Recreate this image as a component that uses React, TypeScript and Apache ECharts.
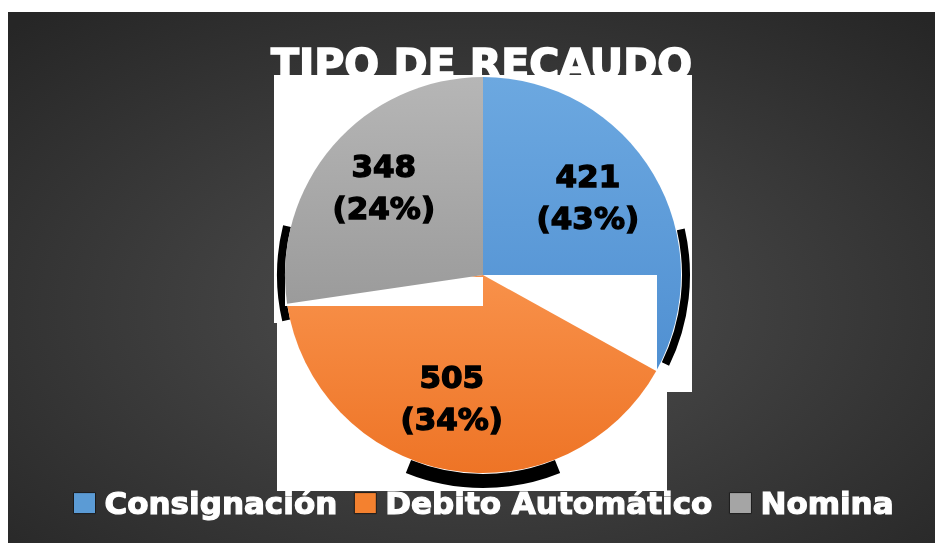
import React, { useEffect, useRef } from "react";
import * as echarts from "echarts";

const titleText = "TIPO DE RECAUDO";
const categories = ["Consignación", "Debito Automático", "Nomina"];
const values = [421, 505, 348];
const percentLabels = ["43%", "34%", "24%"];
const topColors = ["#6CA8E0", "#F8914A", "#B6B6B6"];
const bottomColors = ["#5090D2", "#EE7426", "#9B9B9B"];
const legendColors = ["#5B9BD5", "#F4812F", "#A5A5A5"];

const FONT = "DejaVu Sans";
const CX = 483;
const CY = 275;
const R = 198;

const deg = (d: number) => (d * Math.PI) / 180;

export default function App() {
  const ref = useRef<HTMLDivElement>(null);

  useEffect(() => {
    if (!ref.current) return;
    const chart = echarts.init(ref.current, undefined, { renderer: "svg" });

    const zs = [5, 7, 9];
    const offsets = [
      { dx: 17, dy: -26 },
      { dx: -13, dy: 23 },
      { dx: -22, dy: -21 },
    ];

    const series = categories.map((_, i) => ({
      type: "pie",
      z: zs[i],
      center: [CX, CY],
      radius: R,
      startAngle: 90,
      clockwise: true,
      silent: true,
      animation: false,
      avoidLabelOverlap: false,
      itemStyle: { borderWidth: 0 },
      emphasis: { disabled: true },
      labelLine: { show: false },
      labelLayout: offsets[i],
      label: {
        show: true,
        position: "inside",
        color: "#000",
        fontFamily: FONT,
        fontWeight: "bold",
        fontSize: 31,
        lineHeight: 42,
        textBorderColor: "#000",
        textBorderWidth: 1.4,
        formatter: (p: any) => `${p.value}\n(${percentLabels[p.dataIndex]})`,
      },
      data: categories.map((name, j) => ({
        name,
        value: values[j],
        itemStyle:
          j === i
            ? {
                color: new echarts.graphic.LinearGradient(0, 0, 0, 1, [
                  { offset: 0, color: topColors[j] },
                  { offset: 1, color: bottomColors[j] },
                ]),
                opacity: 1,
              }
            : { opacity: 0 },
        label: { show: j === i },
      })),
    }));

    const option: any = {
      animation: false,
      title: {
        text: titleText,
        left: 266,
        top: 38,
        z: 1,
        textStyle: {
          color: "#fff",
          fontFamily: FONT,
          fontWeight: "bold",
          fontSize: 41,
          textBorderColor: "#fff",
          textBorderWidth: 1.6,
        },
      },
      legend: {
        z: 1,
        left: 73,
        top: 487,
        padding: 0,
        icon: "rect",
        itemWidth: 22,
        itemHeight: 21,
        itemGap: 16,
        selectedMode: false,
        textStyle: {
          color: "#fff",
          fontFamily: FONT,
          fontWeight: "bold",
          fontSize: 31,
          lineHeight: 32,
          padding: [0, 0, 0, 4],
          textBorderColor: "#fff",
          textBorderWidth: 1.2,
        },
        data: categories.map((name, i) => ({
          name,
          itemStyle: {
            color: legendColors[i],
            opacity: 1,
            borderColor: "#1a1a1a",
            borderWidth: 1,
          },
        })),
      },
      graphic: [
        {
          type: "rect",
          z: 0,
          silent: true,
          shape: { x: 8, y: 12, width: 935, height: 540 },
          style: {
            fill: new echarts.graphic.RadialGradient(0.5, 0.55, 0.72, [
              { offset: 0, color: "#505050" },
              { offset: 1, color: "#262626" },
            ]),
          },
        },
        { type: "rect", z: 3, silent: true, shape: { x: 274, y: 75, width: 418, height: 248 }, style: { fill: "#fff" } },
        { type: "rect", z: 3, silent: true, shape: { x: 277, y: 322, width: 415, height: 70 }, style: { fill: "#fff" } },
        { type: "rect", z: 3, silent: true, shape: { x: 277, y: 391, width: 390, height: 100 }, style: { fill: "#fff" } },
        {
          type: "arc",
          z: 4,
          silent: true,
          shape: { cx: CX, cy: CY, r: 202, startAngle: deg(167), endAngle: deg(194), clockwise: true },
          style: { stroke: "#000", lineWidth: 8, fill: "none" },
        },
        {
          type: "arc",
          z: 4,
          silent: true,
          shape: { cx: CX, cy: CY, r: 203, startAngle: deg(-13), endAngle: deg(26), clockwise: true },
          style: { stroke: "#000", lineWidth: 8, fill: "none" },
        },
        {
          type: "arc",
          z: 4,
          silent: true,
          shape: { cx: CX, cy: 282, r: 199, startAngle: deg(68), endAngle: deg(112), clockwise: true },
          style: { stroke: "#000", lineWidth: 14, fill: "none" },
        },
        { type: "rect", z: 6, silent: true, shape: { x: 483, y: 275, width: 174, height: 97 }, style: { fill: "#fff" } },
        { type: "rect", z: 8, silent: true, shape: { x: 285, y: 277, width: 198, height: 29 }, style: { fill: "#fff" } },
      ],
      series,
    };

    chart.setOption(option);
    return () => chart.dispose();
  }, []);

  return (
    <div
      ref={ref}
      style={{ position: "fixed", left: 0, top: 0, width: 935, height: 543 }}
    />
  );
}
